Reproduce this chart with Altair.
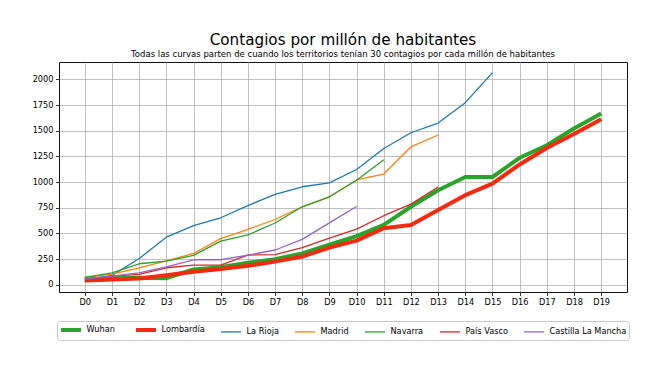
import altair as alt
import pandas as pd

days = [f"D{i}" for i in range(20)]
names = ["Wuhan", "Lombardía", "La Rioja", "Madrid", "Navarra", "País Vasco", "Castilla La Mancha"]
colors = ["#2aa32a", "#f5290f", "#1f77b4", "#ff7f0e", "#2ca02c", "#d62728", "#9467bd"]
widths = [4, 4, 1.3, 1.3, 1.3, 1.3, 1.3]

wuhan = [55, 65, 68, 65, 149, 172, 215, 250, 305, 390, 475, 583, 760, 921, 1050, 1050, 1237, 1359, 1523, 1668]
lombardia = [42, 52, 62, 94, 127, 153, 185, 226, 275, 362, 430, 551, 583, 728, 873, 985, 1172, 1333, 1468, 1613]
la_rioja = [50, 91, 256, 464, 576, 653, 772, 880, 955, 992, 1123, 1327, 1481, 1575, 1774, 2067]
madrid = [72, 105, 166, 232, 305, 450, 540, 636, 760, 857, 1021, 1079, 1343, 1459]
navarra = [72, 117, 205, 230, 287, 425, 486, 602, 760, 857, 1019, 1217]
pais_vasco = [42, 84, 101, 166, 192, 192, 290, 294, 363, 455, 543, 673, 786, 953]
castilla = [52, 84, 117, 175, 244, 244, 289, 339, 442, 603, 763]

y_ticks = [0, 250, 500, 750, 1000, 1250, 1500, 1750, 2000]

series = [wuhan, lombardia, la_rioja, madrid, navarra, pais_vasco, castilla]
rows = []
for name, vals in zip(names, series):
    for i, v in enumerate(vals):
        rows.append({"serie": name, "dia": days[i], "valor": v})
df = pd.DataFrame(rows)

FONT = "DejaVu Sans"

legend = alt.Legend(
    title=None,
    orient="none",
    legendX=-2,
    legendY=259,
    direction="horizontal",
    columns=7,
    symbolType="M-1,0H3",
    symbolSize=100,
    labelFont=FONT,
    labelFontSize=8.2,
    labelColor="#000",
    labelOffset=13.5,
    columnPadding=13,
    padding=2,
    fillColor="white",
    strokeColor="#c8c8c8",
    cornerRadius=3,
)

x_enc = alt.X(
    "dia:O",
    scale=alt.Scale(type="point", domain=days, padding=0.95),
    axis=alt.Axis(title=None, labelAngle=0),
)
y_enc = alt.Y(
    "valor:Q",
    scale=alt.Scale(domain=[-70, 2170], nice=False, zero=False),
    axis=alt.Axis(title=None, values=y_ticks, format="d"),
)
color_enc = alt.Color("serie:N", scale=alt.Scale(domain=names, range=colors), legend=legend)
sw_enc = alt.StrokeWidth(
    "serie:N", scale=alt.Scale(type="ordinal", domain=names, range=widths), legend=legend
)

base = alt.Chart(df)
layers = []
for name in names:
    layers.append(
        base.transform_filter(alt.datum.serie == name)
        .mark_line(strokeJoin="round", strokeCap="butt")
        .encode(x=x_enc, y=y_enc, color=color_enc, strokeWidth=sw_enc)
    )

chart = (
    alt.layer(*layers)
    .properties(
        width=568,
        height=230,
        autosize=alt.AutoSizeParams(type="none"),
        padding={"left": 51, "top": 54, "right": 30, "bottom": 67},
        background="white",
        title=alt.TitleParams(
            text="Contagios por millón de habitantes",
            subtitle="Todas las curvas parten de cuando los territorios tenían 30 contagios por cada millón de habitantes",
            anchor="middle",
            frame="group",
            font=FONT,
            fontSize=15.2,
            fontWeight="normal",
            color="#000",
            subtitleFont=FONT,
            subtitleFontSize=8.5,
            subtitleColor="#000",
            subtitlePadding=2,
            offset=3.5,
        ),
    )
    .configure_view(stroke="#111", strokeWidth=1)
    .configure_axis(
        labelFont=FONT,
        labelFontSize=8.2,
        labelColor="#000",
        tickColor="#000",
        tickSize=3.5,
        tickWidth=0.8,
        labelPadding=2.5,
        domain=False,
        grid=True,
        gridColor="#b0b0b0",
        gridWidth=0.8,
    )
)

chart.save("out.html", embed_options={"renderer": "svg", "actions": False})
